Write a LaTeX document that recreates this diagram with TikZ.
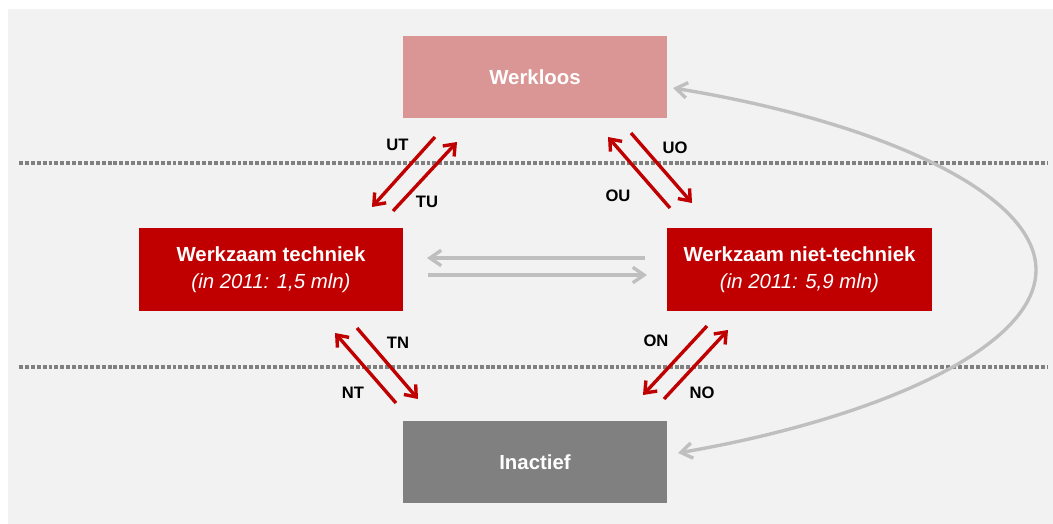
\documentclass[tikz,border=0pt]{standalone}
\usepackage{fontspec}
\setmainfont{Liberation Sans}
\usetikzlibrary{arrows.meta}
\definecolor{panel}{HTML}{F2F2F2}
\definecolor{deepred}{HTML}{C00000}
\definecolor{rose}{HTML}{D99694}
\definecolor{midgray}{HTML}{808080}
\definecolor{lightline}{HTML}{BFBFBF}
\begin{document}
\begin{tikzpicture}[x=0.025cm,y=-0.025cm,
  statebox/.style={minimum width=6.6cm, minimum height=2.05cm, inner sep=0pt,
    text=white, align=center, font=\fontsize{14.5}{19.2}\selectfont\bfseries},
  redflow/.style={draw=deepred, line width=2.4pt,
    -{Straight Barb[length=7pt,width=11pt]}},
  grayflow/.style={draw=lightline, line width=2.4pt,
    -{Straight Barb[length=8pt,width=11pt]}},
  lbl/.style={font=\fontsize{11.8}{13}\selectfont\bfseries, text=black, inner sep=0pt},
  divider/.style={draw=midgray, line width=2.3pt, dash pattern=on 2.8pt off 1.4pt}]

% canvas and panel
\useasboundingbox (0,0) rectangle (1053,524);
\fill[white] (0,0) rectangle (1053,524);
\fill[panel] (8,9) rectangle (1053,524);

% dotted level separators
\draw[divider] (19,163) -- (1047,163);
\draw[divider] (19,367) -- (1047,367);

% states
\node[statebox, fill=rose] (wl) at (535,77) {Werkloos};
\node[statebox, fill=deepred] (wt) at (271,269.5)
  {Werkzaam techniek\\{\mdseries\itshape (in 2011: 1,5 mln)}};
\node[statebox, fill=deepred] (wn) at (799.5,269.5)
  {Werkzaam niet-techniek\\{\mdseries\itshape (in 2011: 5,9 mln)}};
\node[statebox, fill=midgray] (ia) at (535,462) {Inactief};

% end points of the transition arrows
\coordinate (ut1) at (435,137); \coordinate (ut2) at (372,207);
\coordinate (tu1) at (393,211); \coordinate (tu2) at (457,142);
\coordinate (ou1) at (670,208); \coordinate (ou2) at (608,137);
\coordinate (uo1) at (631,133); \coordinate (uo2) at (692,203);
\coordinate (nt1) at (396,403); \coordinate (nt2) at (335,333);
\coordinate (tn1) at (357,328); \coordinate (tn2) at (418,399);
\coordinate (on1) at (707,326); \coordinate (on2) at (643,395);
\coordinate (no1) at (664,399); \coordinate (no2) at (728,330);
\coordinate (nw1) at (645,258); \coordinate (nw2) at (427,258);
\coordinate (tw1) at (428,275); \coordinate (tw2) at (647,275);
\coordinate (cu1) at (673,88);  \coordinate (cu2) at (678,453);

% transitions
\draw[redflow] (ut1) -- (ut2);
\draw[redflow] (tu1) -- (tu2);
\draw[redflow] (ou1) -- (ou2);
\draw[redflow] (uo1) -- (uo2);
\draw[redflow] (nt1) -- (nt2);
\draw[redflow] (tn1) -- (tn2);
\draw[redflow] (on1) -- (on2);
\draw[redflow] (no1) -- (no2);

\draw[grayflow] (nw1) -- (nw2);
\draw[grayflow] (tw1) -- (tw2);
\draw[grayflow, {Straight Barb[length=8pt,width=11pt]}-{Straight Barb[length=8pt,width=11pt]}]
  (cu1) .. controls (870,120) and (1036,190) .. (1036,270)
        .. controls (1036,350) and (870,420) .. (cu2);

% transition labels
\node[lbl] (lut) at (397.5,145) {UT};
\node[lbl] (ltu) at (427,201.5) {TU};
\node[lbl] (luo) at (675,148) {UO};
\node[lbl] (lou) at (618,196) {OU};
\node[lbl] (ltn) at (398,342.5) {TN};
\node[lbl] (lnt) at (353,393) {NT};
\node[lbl] (lon) at (656,340.5) {ON};
\node[lbl] (lno) at (702,393) {NO};
\end{tikzpicture}
\end{document}
